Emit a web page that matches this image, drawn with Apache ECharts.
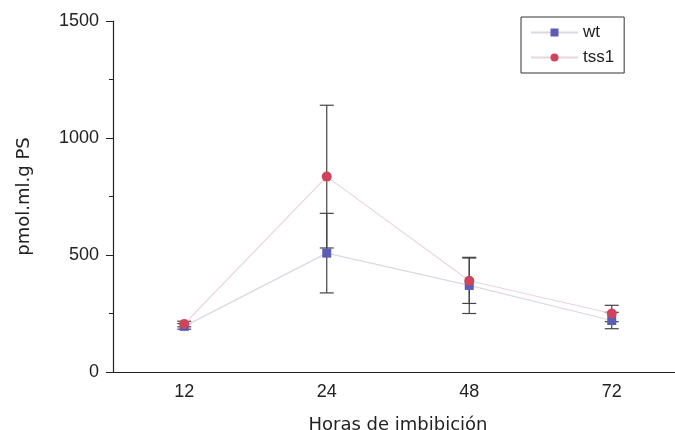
<!DOCTYPE html>
<html>
<head>
<meta charset="utf-8">
<script src="https://cdn.jsdelivr.net/npm/echarts@6/dist/echarts.min.js"></script>
<style>
  html, body { margin: 0; padding: 0; background: #fff; }
  #chart { width: 675px; height: 430px; }
</style>
</head>
<body>
<div id="chart"></div>
<script>
// Horas de imbibición
const categories = ["12", "24", "48", "72"];
const wtValues = [195, 508, 370, 220];
const wtErrors = [12, 170, 120, 35];
const tssValues = [205, 835, 390, 250];
const tssErrors = [12, 305, 97, 35];

const chart = echarts.init(document.getElementById("chart"));

// build [index, low, high] rows for the error bars
const errRows = (vals, errs) =>
  vals.map((v, i) => [i, v - errs[i], v + errs[i]]);

const renderErr = (params, api) => {
  const x = api.value(0);
  const lo = api.coord([x, api.value(1)]);
  const hi = api.coord([x, api.value(2)]);
  const half = 7;
  const style = { stroke: "#444", lineWidth: 1.2 };
  return {
    type: "group",
    children: [
      { type: "line", shape: { x1: lo[0], y1: lo[1], x2: hi[0], y2: hi[1] }, style },
      { type: "line", shape: { x1: lo[0] - half, y1: lo[1], x2: lo[0] + half, y2: lo[1] }, style },
      { type: "line", shape: { x1: hi[0] - half, y1: hi[1], x2: hi[0] + half, y2: hi[1] }, style },
    ],
  };
};

const font = "Liberation Sans, Arial, sans-serif";
const nameFont = "DejaVu Sans, sans-serif";

chart.setOption({
  animation: false,
  textStyle: { fontFamily: font },
  grid: { left: 113, width: 570, top: 21, bottom: 58, outerBoundsMode: "none" },
  legend: {
    left: 521,
    top: 17,
    orient: "vertical",
    itemGap: 8,
    itemWidth: 47,
    itemHeight: 10,
    padding: [7, 10, 7, 9],
    borderColor: "#333",
    borderWidth: 1,
    textStyle: { fontSize: 17, color: "#222", fontFamily: font },
    data: ["wt", "tss1"],
  },
  xAxis: {
    type: "category",
    data: categories,
    boundaryGap: true,
    name: "Horas de imbibición",
    nameLocation: "middle",
    nameGap: 44,
    nameTextStyle: { fontSize: 18, color: "#222", fontFamily: nameFont },
    axisLine: { lineStyle: { color: "#222", width: 1.2 } },
    axisTick: { alignWithLabel: true, length: 7, lineStyle: { color: "#222" } },
    axisLabel: { fontSize: 18, color: "#222", margin: 11 },
    splitLine: { show: false },
  },
  yAxis: {
    type: "value",
    min: 0,
    max: 1500,
    interval: 500,
    name: "pmol.ml.g PS",
    nameLocation: "middle",
    nameGap: 80,
    nameTextStyle: { fontSize: 18, color: "#222", fontFamily: nameFont },
    axisLine: { show: true, lineStyle: { color: "#222", width: 1.2 } },
    axisTick: { show: true, length: 7, lineStyle: { color: "#222" } },
    minorTick: { show: true, splitNumber: 2, length: 4, lineStyle: { color: "#222" } },
    axisLabel: { fontSize: 18, color: "#222", margin: 14, formatter: (v) => String(v) },
    splitLine: { show: false },
  },
  series: [
    {
      type: "custom",
      renderItem: renderErr,
      data: errRows(wtValues, wtErrors),
      z: 1,
      silent: true,
    },
    {
      type: "custom",
      renderItem: renderErr,
      data: errRows(tssValues, tssErrors),
      z: 1,
      silent: true,
    },
    {
      name: "wt",
      type: "line",
      data: wtValues,
      symbol: "rect",
      symbolSize: 9,
      itemStyle: { color: "#5a5db3" },
      lineStyle: { color: "#dcd8e2", width: 1.2 },
      z: 3,
    },
    {
      name: "tss1",
      type: "line",
      data: tssValues,
      symbol: "circle",
      symbolSize: 10,
      itemStyle: { color: "#d0435c" },
      lineStyle: { color: "#ead6dc", width: 1.2 },
      z: 3,
    },
  ],
});
</script>
</body>
</html>
